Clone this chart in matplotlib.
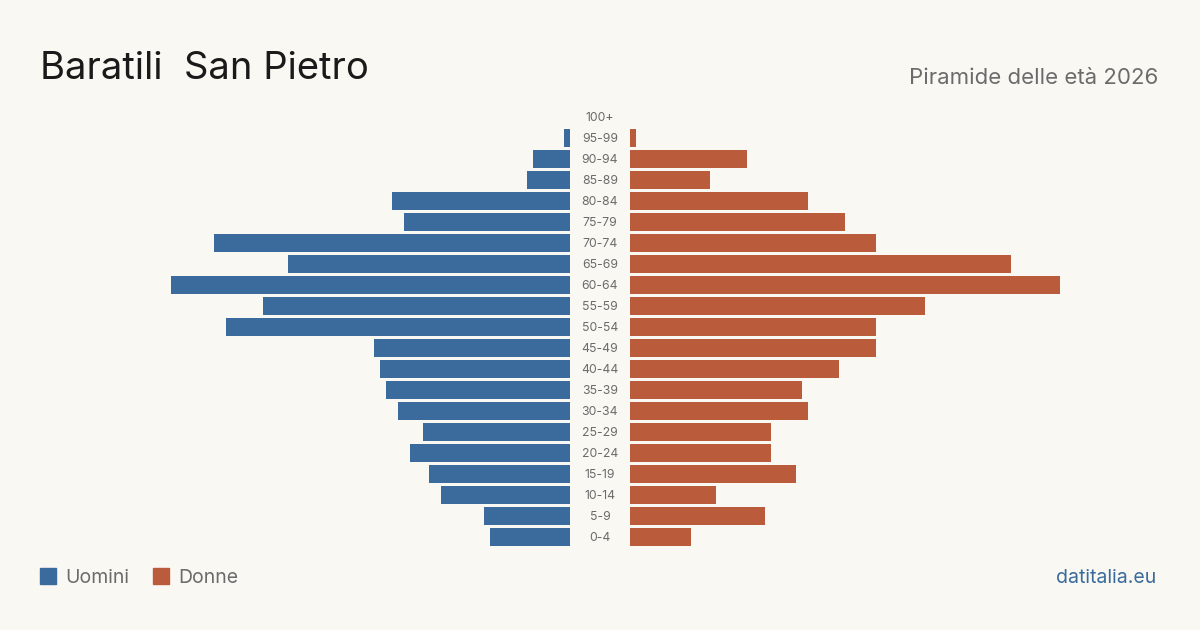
import matplotlib.pyplot as plt
from matplotlib.patches import Rectangle

plt.rcParams['font.family'] = ['Inter', 'DejaVu Sans']

# age groups, from oldest (top) to youngest (bottom)
age_groups = ['100+', '95-99', '90-94', '85-89', '80-84', '75-79', '70-74', '65-69',
              '60-64', '55-59', '50-54', '45-49', '40-44', '35-39', '30-34', '25-29',
              '20-24', '15-19', '10-14', '5-9', '0-4']
uomini = [0, 1, 6, 7, 29, 27, 58, 46, 65, 50, 56, 32, 31, 30, 28, 24, 26, 23, 21, 14, 13]
donne = [0, 1, 19, 13, 29, 35, 40, 62, 70, 48, 40, 40, 34, 28, 29, 23, 23, 27, 14, 22, 10]

title = 'Baratili  San Pietro'
subtitle = 'Piramide delle età 2026'
source = 'datitalia.eu'

bg = '#faf8f3'
blue = '#3a6b9c'
orange = '#ba5c3c'
grey = '#6b6b6b'

W, H = 1200, 630
fig = plt.figure(figsize=(W / 100, H / 100), dpi=100, facecolor=bg)

px = 6.14  # pixels per person
xmax = 530 / px
ax_bottom = (H - 547.5) / H
ax_height = 441 / H

axL = fig.add_axes([40 / W, ax_bottom, 530 / W, ax_height])
axR = fig.add_axes([630 / W, ax_bottom, 530 / W, ax_height])

y = list(range(len(age_groups)))
axL.barh(y, uomini, height=0.81, color=blue)
axR.barh(y, donne, height=0.81, color=orange)

for ax in (axL, axR):
    ax.set_ylim(len(age_groups) - 0.5, -0.5)
    ax.axis('off')
    ax.set_facecolor('none')
axL.set_xlim(xmax, 0)
axR.set_xlim(0, xmax)

# age labels in the middle gap
for i, lab in enumerate(age_groups):
    axR.text(-30 / px, i + 0.05, lab, ha='center', va='center', fontsize=8.8,
             color=grey, clip_on=False)

fig.text(40 / W, 1 - 79 / H, title, fontsize=27.5, color='#1a1a1a',
         ha='left', va='baseline')
fig.text(1158 / W, 1 - 84 / H, subtitle, fontsize=16, color=grey,
         ha='right', va='baseline')

# legend
for x0, col, lab in [(40, blue, 'Uomini'), (153, orange, 'Donne')]:
    fig.patches.append(Rectangle((x0 / W, 1 - 584 / H), 16 / W, 16 / H,
                                 transform=fig.transFigure, color=col))
    fig.text((x0 + 25) / W, 1 - 583 / H, lab, fontsize=14, color=grey,
             ha='left', va='baseline')

fig.text(1156 / W, 1 - 583 / H, source, fontsize=14, color=blue,
         ha='right', va='baseline')

fig.savefig('out.png', dpi=100, facecolor=bg)
